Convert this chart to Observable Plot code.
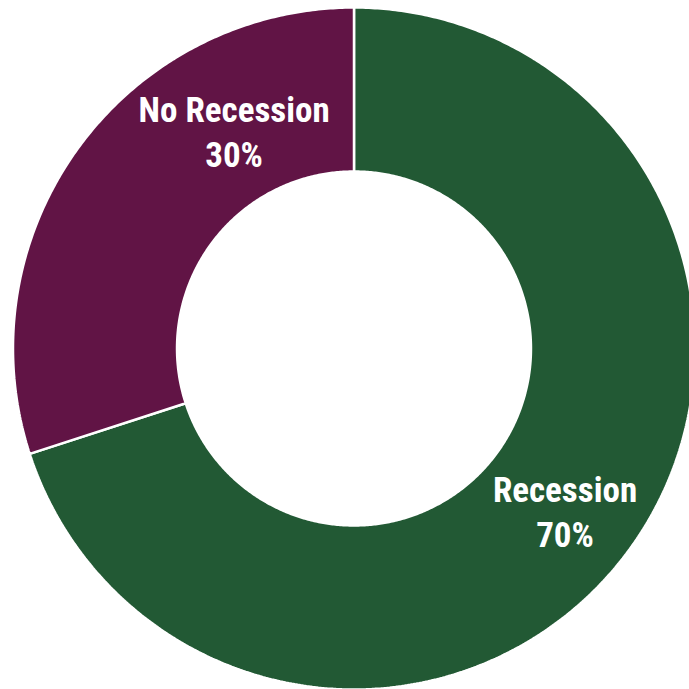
<!DOCTYPE html>
<html>
<head>
<meta charset="utf-8">
<script src="https://cdn.jsdelivr.net/npm/d3@7"></script>
<script src="https://cdn.jsdelivr.net/npm/@observablehq/plot@0.6"></script>
<style>
  html, body { margin: 0; padding: 0; background: #fff; }
  #chart { width: 689px; height: 689px; }
</style>
</head>
<body>
<div id="chart"></div>
<script>
// ---- data ----
const categories = ["Recession", "No Recession"];
const values = [70, 30];
const valueLabels = ["70%", "30%"];
const colors = ["#225934", "#611445"];
// label placement (angle clockwise from top, degrees; radius as fraction of outer radius)
const labelAngles = [127.5, 331.2];
const labelRadii = [0.780, 0.730];

// ---- geometry (unit circle, y up) ----
const innerFrac = 0.519;
const total = d3.sum(values);
const slices = [];
let start = 0;
values.forEach((v, i) => {
  const a0 = start, a1 = start + (v / total) * 2 * Math.PI;
  start = a1;
  const steps = Math.max(8, Math.ceil((a1 - a0) / (Math.PI / 360)));
  const pts = [];
  for (let k = 0; k <= steps; k++) {
    const a = a0 + (a1 - a0) * k / steps;
    pts.push({cat: categories[i], x: Math.sin(a), y: Math.cos(a)});
  }
  for (let k = steps; k >= 0; k--) {
    const a = a0 + (a1 - a0) * k / steps;
    pts.push({cat: categories[i], x: innerFrac * Math.sin(a), y: innerFrac * Math.cos(a)});
  }
  pts.push({...pts[0]});
  slices.push(...pts);
});

const labels = categories.map((c, i) => {
  const a = labelAngles[i] * Math.PI / 180;
  return {text: c + "\n" + valueLabels[i], x: labelRadii[i] * Math.sin(a), y: labelRadii[i] * Math.cos(a)};
});

// ---- layout: center (353.5, 348) px, outer radius 341 px ----
const W = 689, H = 689, cx = 353.5, cy = 348, R = 341;

const chart = Plot.plot({
  width: W,
  height: H,
  margin: 0,
  x: {domain: [-cx / R, (W - cx) / R], range: [0, W], axis: null},
  y: {domain: [(cy - H) / R, cy / R], range: [H, 0], axis: null},
  color: {domain: categories, range: colors},
  style: {fontFamily: "'Roboto Condensed', Roboto, sans-serif", background: "#fff"},
  marks: [
    Plot.line(slices, {x: "x", y: "y", z: "cat", fill: "cat", stroke: "#fff", strokeWidth: 2.5, curve: "linear", strokeLinejoin: "miter"}),
    Plot.text(labels, {x: "x", y: "y", text: "text", fill: "#fff", fontSize: 35, fontWeight: 700, lineHeight: 1.26, textAnchor: "middle", lineAnchor: "middle"})
  ]
});
document.getElementById("chart").appendChild(chart);
</script>
</body>
</html>
